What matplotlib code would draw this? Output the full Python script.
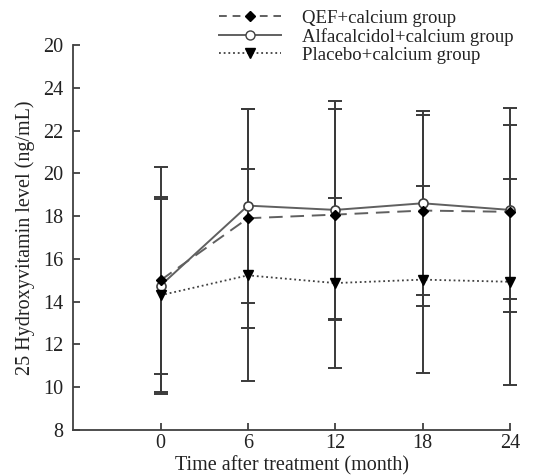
import numpy as np
import matplotlib.pyplot as plt
from matplotlib.lines import Line2D

plt.rcParams['font.family'] = ['Liberation Serif', 'DejaVu Serif']

# DATA
months = [0, 6, 12, 18, 24]
qef_mean = [15.0, 17.9, 18.07, 18.26, 18.2]
qef_sd = [5.3, 5.13, 4.95, 4.48, 4.08]
alfa_mean = [14.75, 18.49, 18.29, 18.6, 18.29]
alfa_sd = [4.15, 4.54, 5.1, 4.3, 4.75]
plac_mean = [14.3, 15.23, 14.87, 15.03, 14.93]
plac_sd = [4.5, 4.95, 3.97, 4.36, 4.81]

y_ticks = [8, 10, 12, 14, 16, 18, 20, 22, 24, 26]
y_ticklabels = ['8', '10', '12', '14', '16', '18', '20', '22', '24', '20']

labels = ['QEF+calcium group', 'Alfacalcidol+calcium group', 'Placebo+calcium group']

fig = plt.figure(figsize=(5.46, 4.76), dpi=100)
ax = fig.add_axes([0.134, 0.0966, 0.80, 0.8089])

line_col = '#606060'
err_col = '#3a3a3a'

# error bars first, then lines/markers on top
for m, s in [(qef_mean, qef_sd), (alfa_mean, alfa_sd), (plac_mean, plac_sd)]:
    eb = ax.errorbar(months, m, yerr=s, fmt='none', ecolor=err_col, elinewidth=1.4,
                     capsize=5, capthick=1.4, zorder=2)
    for art in eb.lines[1] + eb.lines[2]:
        art.set_clip_on(False)

ax.plot(months, qef_mean, color=line_col, ls=(0, (7, 4)), lw=1.4, zorder=3, clip_on=False)
ax.plot(months, qef_mean, ls='none', marker='D', ms=5.5, color='black', zorder=5,
        clip_on=False)
ax.plot(months, alfa_mean, color=line_col, ls='-', lw=1.4, zorder=3, clip_on=False)
ax.plot(months, alfa_mean, ls='none', marker='o', ms=6.5, mfc='white', mec='#404040',
        mew=1.2, zorder=4, clip_on=False)
ax.plot(months, plac_mean, color='#404040', ls=(0, (1, 1.6)), lw=1.3, zorder=3,
        clip_on=False)
ax.plot(months, plac_mean, ls='none', marker='v', ms=7, color='black', zorder=5,
        clip_on=False)

ax.set_xlim(-6, 24)
ax.set_ylim(8, 26)
ax.set_xticks(months)
ax.set_yticks(y_ticks)
ax.set_yticklabels(y_ticklabels)

for side in ['top', 'right']:
    ax.spines[side].set_visible(False)
for side in ['left', 'bottom']:
    ax.spines[side].set_color('#404040')
    ax.spines[side].set_linewidth(1.3)

ax.tick_params(direction='in', length=5, width=1.3, color='#404040',
               labelsize=14.5, labelcolor='#222222')
ax.tick_params(axis='y', pad=7)
ax.tick_params(axis='x', pad=3)

ax.set_xlabel('Time after treatment (month)', fontsize=14.5, color='#222222', labelpad=2)
ax.set_ylabel('25 Hydroxyvitamin level (ng/mL)', fontsize=14.5, color='#222222', labelpad=6)

handles = [
    Line2D([], [], color=line_col, ls=(0, (4, 3)), lw=1.4, marker='D', ms=5.5,
           mfc='black', mec='black'),
    Line2D([], [], color=line_col, ls='-', lw=1.4, marker='o', ms=6.5,
           mfc='white', mec='#404040'),
    Line2D([], [], color='#404040', ls=(0, (1, 1.6)), lw=1.3, marker='v', ms=7,
           mfc='black', mec='black'),
]
fig.legend(handles, labels, loc='upper left', bbox_to_anchor=(0.37, 1.015),
           frameon=False, fontsize=13.5, handlelength=3.3, handletextpad=1.13,
           labelspacing=0.05, labelcolor='#222222')

fig.savefig('out.png', dpi=100)
